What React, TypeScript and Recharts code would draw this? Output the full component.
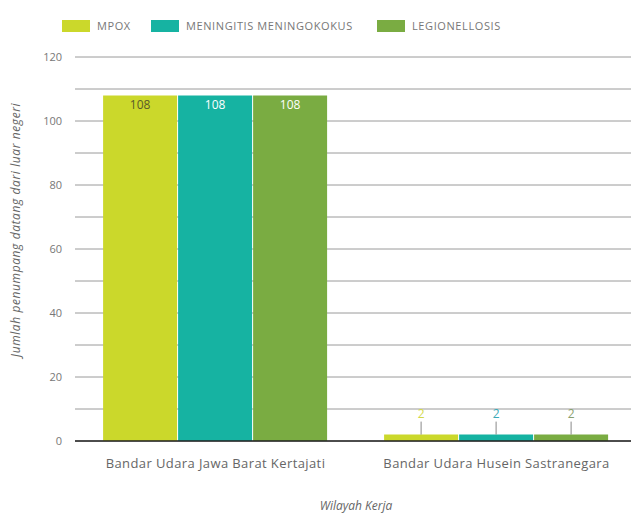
import React from "react";
import * as R from "recharts";
import { BarChart, Bar, XAxis, YAxis, CartesianGrid, LabelList, Label, ReferenceLine } from "recharts";

const wilayah = ["Bandar Udara Jawa Barat Kertajati", "Bandar Udara Husein Sastranegara"];
const mpox = [108, 2];
const meningitis = [108, 2];
const legionellosis = [108, 2];
const yTicks = [0, 20, 40, 60, 80, 100, 120];
const minorGrid = [10, 30, 50, 70, 90, 110];
const yMax = 120;

const series = [
  { key: "mpox", name: "MPOX", color: "#cbd82b", inside: "#5a5a2a", above: "#d2d84a" },
  { key: "meningitis", name: "MENINGITIS MENINGOKOKUS", color: "#16b3a2", inside: "#ffffff", above: "#3aa9b8" },
  { key: "legionellosis", name: "LEGIONELLOSIS", color: "#7aac42", inside: "#ffffff", above: "#8aa070" },
];

const data = wilayah.map((w, i) => ({
  wilayah: w,
  mpox: mpox[i],
  meningitis: meningitis[i],
  legionellosis: legionellosis[i],
}));

const font = "'Open Sans', Lato, sans-serif";
const usePlotArea: any = (R as any).usePlotArea || (() => null);

function makeLabel(insideColor: string, aboveColor: string) {
  return (props: any) => {
    const { x, y, width, value } = props;
    const cx = x + width / 2;
    if (value > 20) {
      return (
        <text x={cx} y={y + 14} textAnchor="middle" fill={insideColor} fontSize={12} fontFamily={font}>
          {value}
        </text>
      );
    }
    return (
      <g>
        <line x1={cx} x2={cx} y1={y - 13} y2={y} stroke="#888" strokeWidth={1} />
        <text x={cx} y={y - 17} textAnchor="middle" fill={aboveColor} fontSize={12} fontFamily={font}>
          {value}
        </text>
      </g>
    );
  };
}

// minor grid lines (every 10) from the plot area
function MinorGrid() {
  const area = usePlotArea();
  if (!area) return null;
  return (
    <g>
      {minorGrid.map((v) => {
        const y = area.y + area.height * (1 - v / yMax);
        return <line key={v} x1={area.x} x2={area.x + area.width} y1={y} y2={y} stroke="#9a9a9a" strokeWidth={1} />;
      })}
    </g>
  );
}

function YTitle(props: any) {
  return (
    <text
      x={0}
      y={0}
      transform="translate(20, 230) rotate(-90)"
      textAnchor="middle"
      fill="#666"
      fontSize={12}
      fontStyle="italic"
      fontFamily={font}
      letterSpacing={0.6}
    >
      Jumlah penumpang datang dari luar negeri
    </text>
  );
}

function LegendRow() {
  const items = [
    { name: series[0].name, color: series[0].color, x: 62 },
    { name: series[1].name, color: series[1].color, x: 151 },
    { name: series[2].name, color: series[2].color, x: 377 },
  ];
  return (
    <div style={{ position: "absolute", left: 0, top: 0, width: 631, height: 40, zIndex: 2 }}>
      {items.map((it) => (
        <div key={it.name} style={{ position: "absolute", left: it.x, top: 18, display: "flex", alignItems: "center" }}>
          <div style={{ width: 28, height: 12, background: it.color }} />
          <span style={{ marginLeft: 7, fontSize: 11, color: "#777", fontFamily: font, letterSpacing: 0.6 }}>{it.name}</span>
        </div>
      ))}
    </div>
  );
}

export default function App() {
  return (
    <div style={{ position: "absolute", left: 0, top: 0, width: 631, height: 514, background: "#fff", overflow: "hidden" }}>
      <LegendRow />
      <BarChart
        width={637}
        height={514}
        data={data}
        margin={{ top: 57, right: 0, left: 0, bottom: 0 }}
        barCategoryGap="10%"
        barGap={1}
      >
        <CartesianGrid vertical={false} stroke="#9a9a9a" />
        <MinorGrid />
        <XAxis
          dataKey="wilayah"
          height={73}
          tickLine={false}
          axisLine={false}
          tick={{ fill: "#666", fontSize: 13, fontFamily: font, letterSpacing: 0.4 }}
          tickMargin={12}
        >
          <Label value="Wilayah Kerja" position="insideBottom" offset={4} fill="#666" fontSize={12} fontStyle="italic" fontFamily={font} />
        </XAxis>
        <YAxis
          width={75}
          domain={[0, yMax]}
          ticks={yTicks}
          interval={0}
          tickLine={false}
          axisLine={false}
          tickMargin={7}
          tick={{ fill: "#777", fontSize: 11, fontFamily: font }}
        >
          <Label content={<YTitle />} />
        </YAxis>
        {series.map((s) => (
          <Bar key={s.key} dataKey={s.key} name={s.name} fill={s.color} isAnimationActive={false}>
            <LabelList dataKey={s.key} content={makeLabel(s.inside, s.above)} />
          </Bar>
        ))}
        <ReferenceLine y={0} stroke="#222" strokeWidth={1.5} />
      </BarChart>
    </div>
  );
}
